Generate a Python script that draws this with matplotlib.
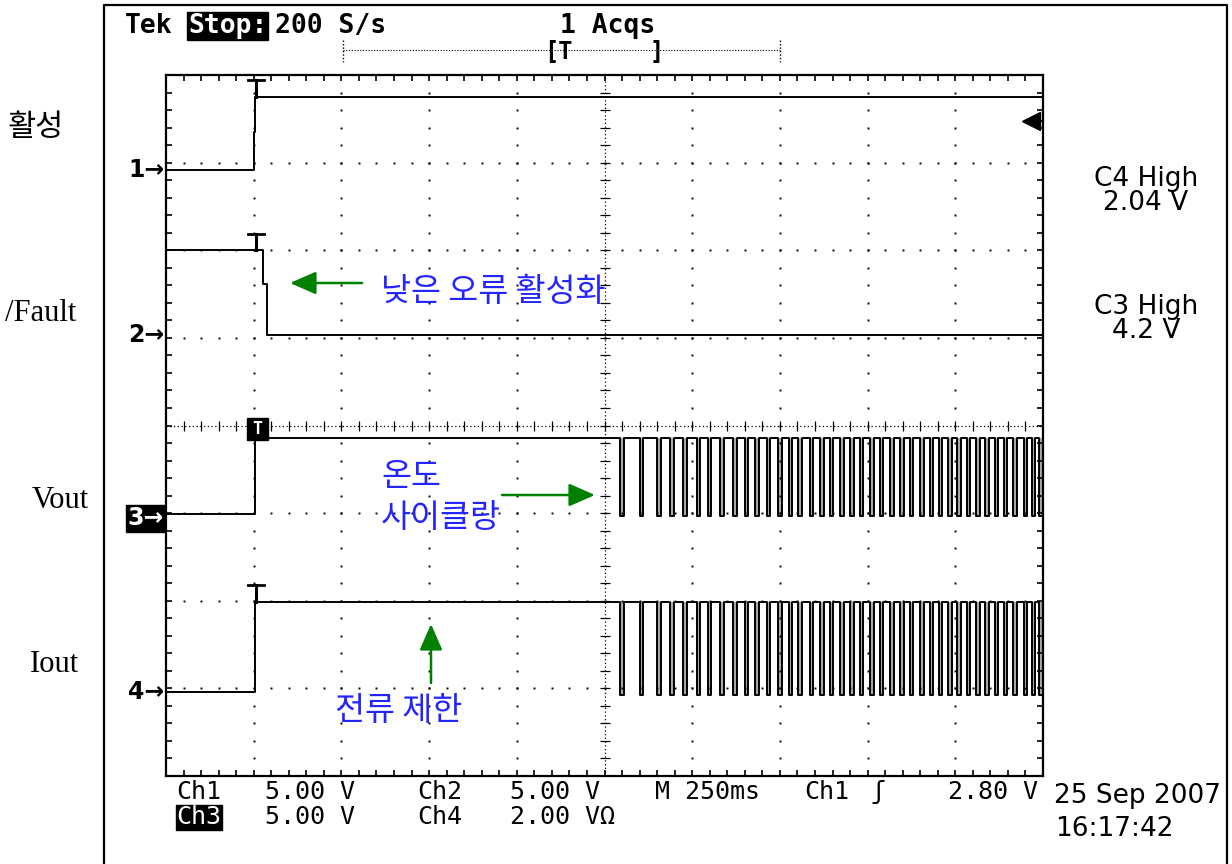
import numpy as np
import matplotlib.pyplot as plt
from matplotlib.lines import Line2D
from matplotlib.patches import Rectangle, FancyArrowPatch

# ---- data (graticule divisions: x 0..10, y 0..8 from bottom) ----
ch1_levels = [6.92, 7.75]      # before / after enable
ch2_levels = [6.00, 5.03]      # /Fault high -> low
ch3_levels = [2.99, 3.86]      # Vout low -> high
ch4_levels = [0.96, 1.99]      # Iout low -> high
ch3_pulse_low = 2.97
ch4_pulse_low = 0.93

step_time = 1.02
ch1_mid = 7.35                 # short intermediate point of ch1 edge
ch2_fall = [1.11, 1.15]
ch2_mid = 5.62
trig_level_div = 2.80 / 5.00   # ch1 trigger 2.80 V at 5 V/div

# thermal cycling dips (start times, div)
pulse_times = [5.18, 5.40, 5.60, 5.75, 5.90, 6.05, 6.18, 6.32, 6.47, 6.60,
               6.72, 6.85, 6.98, 7.10, 7.21, 7.34, 7.46, 7.57, 7.69, 7.80,
               7.91, 8.03, 8.14, 8.26, 8.37, 8.48, 8.60, 8.71, 8.81, 8.92,
               9.02, 9.13, 9.24, 9.34, 9.45, 9.55, 9.66, 9.78, 9.87, 9.96]
pulse_width = 0.04

W, H = 1232, 864
fig = plt.figure(figsize=(W / 100, H / 100), dpi=100)
fig.patch.set_facecolor('white')


def fx(x):
    return x / W


def fy(y):
    return 1 - y / H


mono = ['DejaVu Sans Mono', 'DejaVu Sans']
kor = ['Noto Sans CJK KR', 'DejaVu Sans']
serif = ['Liberation Serif', 'DejaVu Serif']

# outer frame
fig.add_artist(Line2D([fx(104), fx(104), fx(1227), fx(1227)],
                      [fy(870), fy(5), fy(5), fy(870)],
                      transform=fig.transFigure, color='black', lw=1.6))

ax = fig.add_axes([fx(166), fy(776), 877 / W, 701 / H])
ax.set_xlim(0, 10)
ax.set_ylim(0, 8)
ax.set_xticks([])
ax.set_yticks([])
for s in ax.spines.values():
    s.set_linewidth(1.6)

# graticule dots
minor = np.arange(0.2, 10, 0.2)
minor_y = np.arange(0.2, 8, 0.2)
for gx in [1, 2, 3, 4, 6, 7, 8, 9]:
    ax.plot([gx] * len(minor_y), minor_y, ls='none', marker='s', ms=1.4,
            mew=0, color='black')
for gy in [1, 2, 3, 5, 6, 7]:
    ax.plot(minor, [gy] * len(minor), ls='none', marker='s', ms=1.4,
            mew=0, color='black')
# centre lines
ax.plot([5, 5], [0, 8], ls=(0, (1, 2)), lw=0.9, color='black')
ax.plot([0, 10], [4, 4], ls=(0, (1, 2)), lw=0.9, color='black')
ax.plot([5] * len(minor_y), minor_y, ls='none', marker='_', ms=7, mew=0.9,
        color='black')
ax.plot(minor, [4] * len(minor), ls='none', marker='|', ms=7, mew=0.9,
        color='black')
# border ticks
for bx in [0, 10]:
    ax.plot([bx] * len(minor_y), minor_y, ls='none', marker='_', ms=8,
            mew=1.2, color='black')
for by in [0, 8]:
    ax.plot(minor, [by] * len(minor), ls='none', marker='|', ms=8,
            mew=1.2, color='black')

# ---- traces ----
lw = 1.4
ax.plot([0, step_time - 0.02, step_time - 0.02, step_time, step_time, 10],
        [ch1_levels[0], ch1_levels[0], ch1_mid, ch1_mid, ch1_levels[1], ch1_levels[1]],
        color='black', lw=lw)
ax.plot([0, ch2_fall[0], ch2_fall[0], ch2_fall[1], ch2_fall[1], 10],
        [ch2_levels[0], ch2_levels[0], ch2_mid, ch2_mid, ch2_levels[1], ch2_levels[1]],
        color='black', lw=lw)


def cycling(levels, low):
    xs = [0, step_time, step_time]
    ys = [levels[0], levels[0], levels[1]]
    for t in pulse_times:
        xs += [t, t, t + pulse_width, t + pulse_width]
        ys += [levels[1], low, low, levels[1]]
    xs.append(10)
    ys.append(levels[1])
    return xs, ys


for lev, low in [(ch3_levels, ch3_pulse_low), (ch4_levels, ch4_pulse_low)]:
    for t in pulse_times:
        ax.fill_between([t, t + pulse_width], low, lev[1], color='#a8a8a8',
                        lw=0)
    xs, ys = cycling(lev, low)
    ax.plot(xs, ys, color='black', lw=lw)

# trigger cursors at the edge
for lev in [ch1_levels[1], ch2_levels[0], ch4_levels[1]]:
    ax.plot([step_time - 0.08, step_time + 0.1], [lev + 0.19] * 2,
            color='black', lw=2)
    ax.plot([step_time + 0.01] * 2, [lev + 0.19, lev], color='black', lw=2.2)
ax.add_patch(Rectangle((step_time - 0.1, ch3_levels[1] - 0.03), 0.24, 0.26,
                       color='black', zorder=5))
ax.text(step_time + 0.02, ch3_levels[1] + 0.1, 'T', color='white', ha='center',
        va='center', fontsize=12, fontweight='bold', family=mono, zorder=6)

# trigger level indicator
trig_y = ch1_levels[0] + trig_level_div
ax.plot([9.83, 10], [trig_y, trig_y], color='black', lw=1.5, clip_on=False)
ax.plot([9.86], [trig_y], marker='<', ms=13, color='black', ls='none',
        clip_on=False)

# channel ground markers
for lab, lev in [('1', ch1_levels[0]), ('2', ch2_levels[1]),
                 ('4', ch4_levels[0])]:
    ax.text(-0.02, lev, lab + '→', ha='right', va='center', fontsize=17,
            fontweight='bold', family=['DejaVu Sans'], clip_on=False)
ax.text(-0.03, ch3_levels[0] - 0.05, '3→', ha='right', va='center', fontsize=17,
        fontweight='bold', family=['DejaVu Sans'], color='white',
        bbox=dict(facecolor='black', edgecolor='black', pad=1.0))

# ---- header ----
hdr = dict(fontsize=19, fontweight='bold', family=mono, va='center')
fig.text(fx(125), fy(26), 'Tek', **hdr)
fig.text(fx(188), fy(26), 'Stop:', color='white',
         bbox=dict(facecolor='black', edgecolor='black', pad=0.5), **hdr)
fig.text(fx(275), fy(26), '200 S/s', **hdr)
fig.text(fx(560), fy(26), '1 Acqs', **hdr)
fig.add_artist(Line2D([fx(343), fx(780)], [fy(50), fy(50)],
                      transform=fig.transFigure, color='black', lw=0.8,
                      ls=(0, (1, 1.5))))
for bx in [343, 780]:
    fig.add_artist(Line2D([fx(bx), fx(bx)], [fy(40), fy(62)],
                          transform=fig.transFigure, color='black', lw=1,
                          ls=(0, (1, 1.5))))
fig.text(fx(544), fy(52), '[T', fontsize=17, fontweight='bold', family=mono,
         va='center')
fig.text(fx(650), fy(52), ']', fontsize=17, fontweight='bold', family=mono,
         va='center')

# ---- right readouts ----
for txt, y in [('C4 High', 179), ('2.04 V', 203), ('C3 High', 307),
               ('4.2 V', 331)]:
    fig.text(fx(1146), fy(y), txt, fontsize=19, family=['DejaVu Sans'],
             ha='center', va='center')

# ---- bottom readouts ----
bot = dict(fontsize=18, family=mono, va='center')
row1 = [('Ch1', 176), ('5.00 V', 265), ('Ch2', 417), ('5.00 V', 510),
        ('M 250ms', 655), ('Ch1', 804), ('ʃ', 870), ('2.80 V', 948)]
row2 = [('5.00 V', 265), ('Ch4', 417), ('2.00 VΩ', 510)]
for txt, x in row1:
    fig.text(fx(x), fy(792), txt, **bot)
for txt, x in row2:
    fig.text(fx(x), fy(817), txt, **bot)
fig.text(fx(176), fy(817), 'Ch3', color='white',
         bbox=dict(facecolor='black', edgecolor='black', pad=0.3), **bot)
fig.text(fx(1054), fy(796), '25 Sep 2007', fontsize=19, family=['DejaVu Sans'],
         va='center')
fig.text(fx(1055), fy(829), '16:17:42', fontsize=19, family=['DejaVu Sans'],
         va='center')

# ---- left labels ----
fig.text(fx(8), fy(128), '활성', fontsize=22, family=kor, va='center')
fig.text(fx(5), fy(313), '/Fault', fontsize=22, family=serif, va='center')
fig.text(fx(32), fy(500), 'Vout', fontsize=22, family=serif, va='center')
fig.text(fx(30), fy(665), 'Iout', fontsize=22, family=serif, va='center')

# ---- annotations ----
blue = '#2424ff'
green = '#008000'
ann = dict(fontsize=23.5, family=kor, color=blue, va='center')
fig.text(fx(381), fy(292), '낮은 오류 활성화', **ann)
fig.text(fx(381), fy(477), '온도', **ann)
fig.text(fx(381), fy(518), '사이클랑', **ann)
fig.text(fx(335), fy(711), '전류 제한', **ann)

arrow = dict(arrowstyle='-|>,head_length=0.8,head_width=0.35', color=green,
             lw=1.8, shrinkA=0, shrinkB=0)
for start, end in [((362, 283), (290, 283)), ((502, 495), (595, 495)),
                   ((431, 683), (431, 624))]:
    fig.add_artist(FancyArrowPatch(
        (fx(start[0]), fy(start[1])), (fx(end[0]), fy(end[1])),
        transform=fig.transFigure, mutation_scale=20, **arrow))

fig.savefig('out.png', dpi=100)
